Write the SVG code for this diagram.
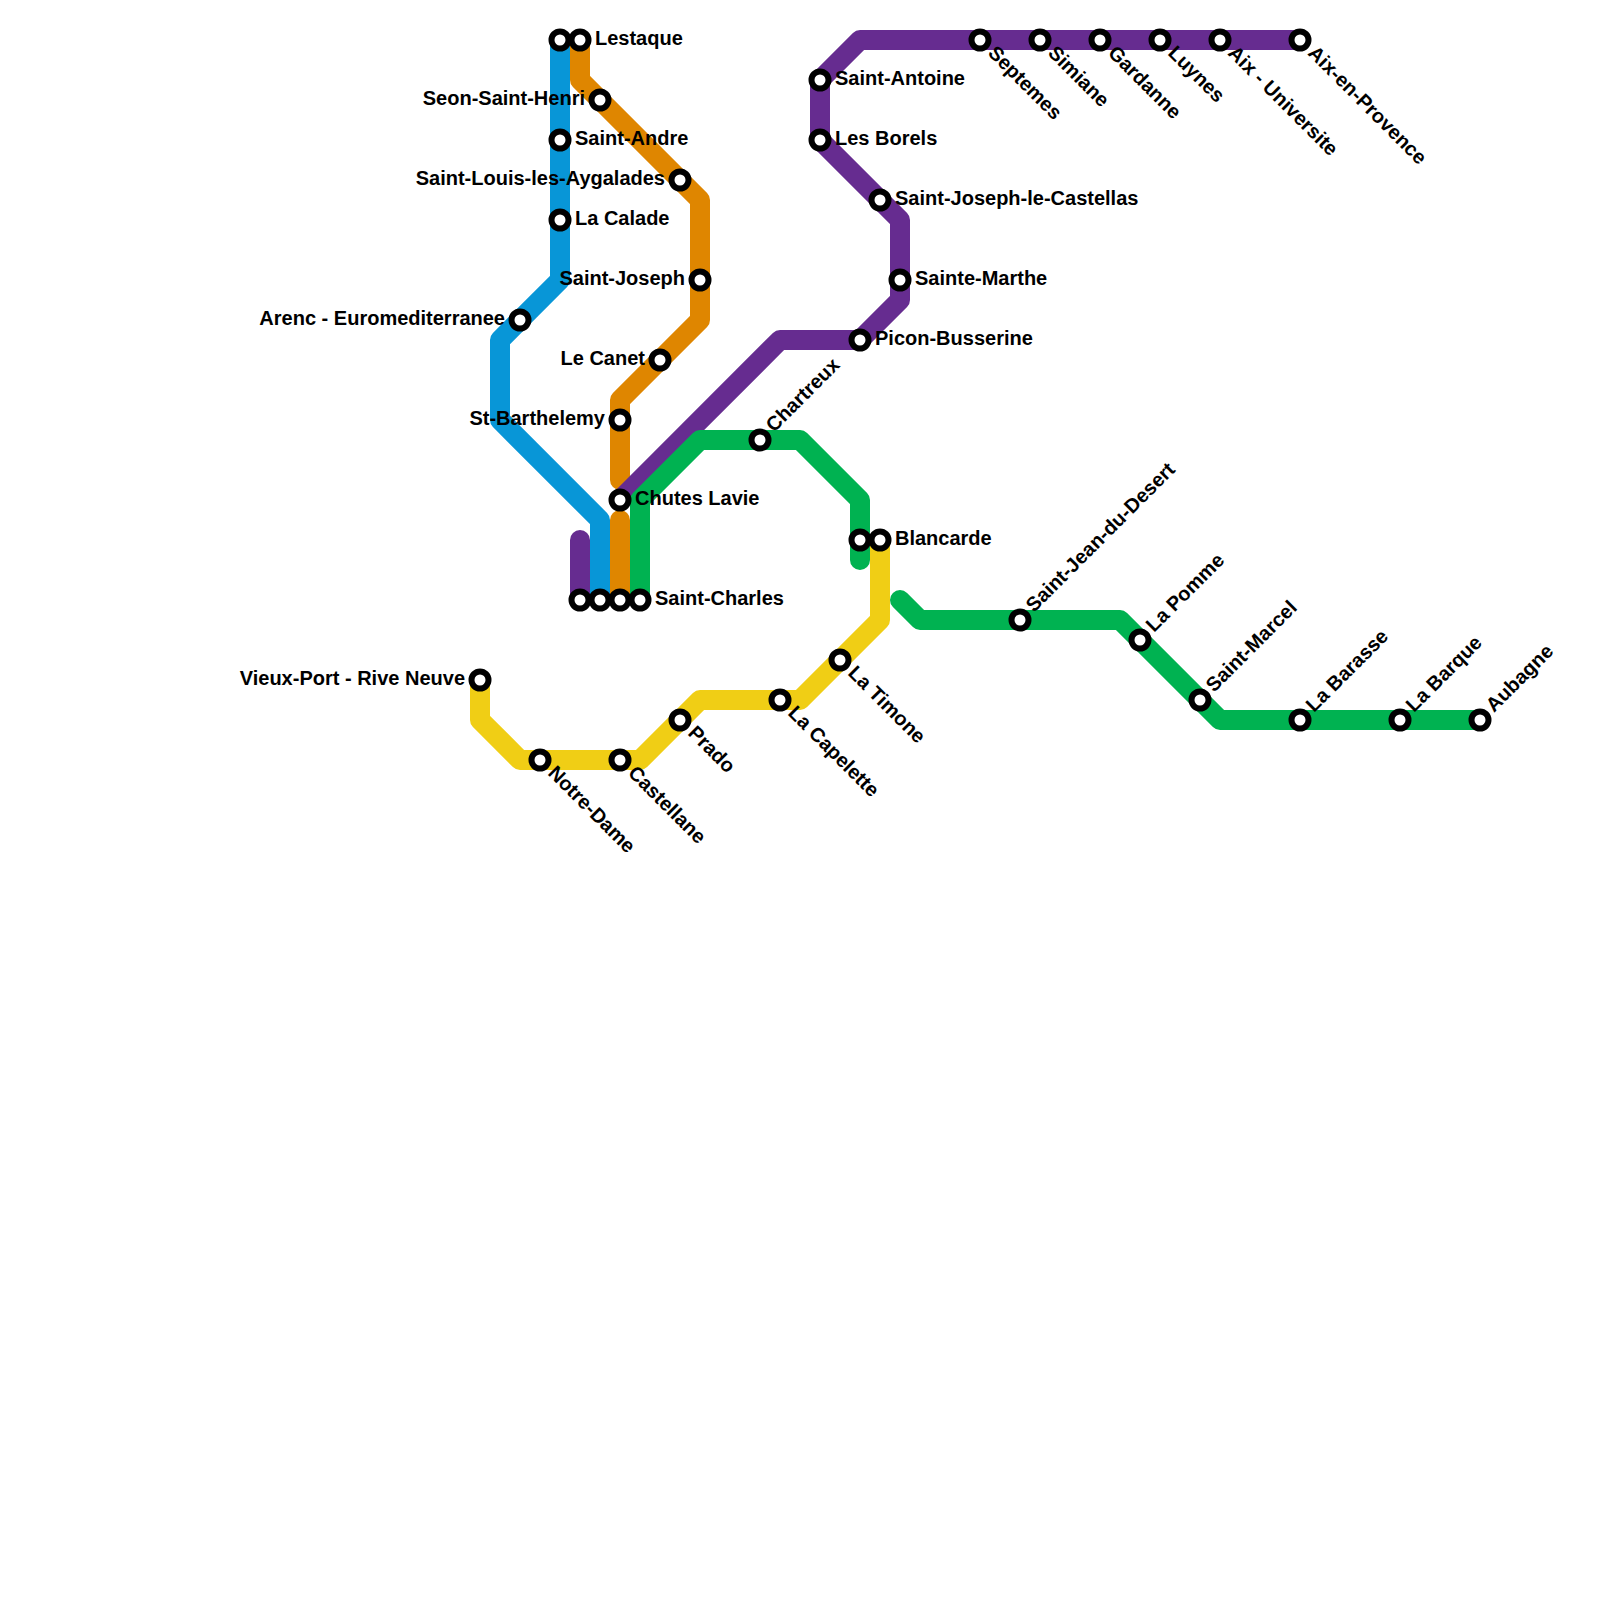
<svg xmlns="http://www.w3.org/2000/svg" width="1600" height="1600" viewBox="0 0 1600 1600">
<style>
.l{fill:none;stroke-width:20;stroke-linecap:round;stroke-linejoin:round}
.s{fill:#fff;stroke:#000;stroke-width:6}
text{font-family:"Liberation Sans",Arial,sans-serif;font-weight:700;font-size:20px;fill:#000}
.e{text-anchor:end}
</style>
<rect width="1600" height="1600" fill="#fff"/>
<g id="connectors">
<path class="l" stroke="#0896d7" d="M560 40V280L500 340V420L600 520V600"/>
<path class="l" stroke="#df8600" d="M580 40V80L700 200V320L620 400V480"/>
<path class="l" stroke="#df8600" d="M620 520V600"/>
<path class="l" stroke="#662c90" d="M620 500L780 340H860L900 300V220L820 140V80L860 40H1300"/>
<path class="l" stroke="#662c90" d="M580 540V600"/>
<path class="l" stroke="#00b251" d="M640 600V500L700 440H800L860 500V560"/>
<path class="l" stroke="#00b251" d="M900 600L920 620H1120L1220 720H1480"/>
<path class="l" stroke="#f0ce15" d="M480 680V720L520 760H640L700 700H800L880 620V540"/>
</g>
<g id="st-blue-top"><circle class="s" cx="560" cy="40" r="8.5"/></g>
<g id="lestaque"><circle class="s" cx="580" cy="40" r="8.5"/><text x="595" y="45">Lestaque</text></g>
<g id="seon"><circle class="s" cx="600" cy="100" r="8.5"/><text class="e" x="585" y="105">Seon-Saint-Henri</text></g>
<g id="saint-andre"><circle class="s" cx="560" cy="140" r="8.5"/><text x="575" y="145">Saint-Andre</text></g>
<g id="saint-louis"><circle class="s" cx="680" cy="180" r="8.5"/><text class="e" x="665" y="185">Saint-Louis-les-Aygalades</text></g>
<g id="la-calade"><circle class="s" cx="560" cy="220" r="8.5"/><text x="575" y="225">La Calade</text></g>
<g id="saint-joseph"><circle class="s" cx="700" cy="280" r="8.5"/><text class="e" x="685" y="285">Saint-Joseph</text></g>
<g id="arenc"><circle class="s" cx="520" cy="320" r="8.5"/><text class="e" x="505" y="325">Arenc - Euromediterranee</text></g>
<g id="le-canet"><circle class="s" cx="660" cy="360" r="8.5"/><text class="e" x="645" y="365">Le Canet</text></g>
<g id="st-barthelemy"><circle class="s" cx="620" cy="420" r="8.5"/><text class="e" x="605" y="425">St-Barthelemy</text></g>
<g id="chutes-lavie"><circle class="s" cx="620" cy="500" r="8.5"/><text x="635" y="505">Chutes Lavie</text></g>
<g id="sc-1"><circle class="s" cx="580" cy="600" r="8.5"/></g>
<g id="sc-2"><circle class="s" cx="600" cy="600" r="8.5"/></g>
<g id="sc-3"><circle class="s" cx="620" cy="600" r="8.5"/></g>
<g id="saint-charles"><circle class="s" cx="640" cy="600" r="8.5"/><text x="655" y="605">Saint-Charles</text></g>
<g id="saint-antoine"><circle class="s" cx="820" cy="80" r="8.5"/><text x="835" y="85">Saint-Antoine</text></g>
<g id="les-borels"><circle class="s" cx="820" cy="140" r="8.5"/><text x="835" y="145">Les Borels</text></g>
<g id="sjc"><circle class="s" cx="880" cy="200" r="8.5"/><text x="895" y="205">Saint-Joseph-le-Castellas</text></g>
<g id="sainte-marthe"><circle class="s" cx="900" cy="280" r="8.5"/><text x="915" y="285">Sainte-Marthe</text></g>
<g id="picon"><circle class="s" cx="860" cy="340" r="8.5"/><text x="875" y="345">Picon-Busserine</text></g>
<g id="chartreux"><circle class="s" cx="760" cy="440" r="8.5"/><text transform="translate(774 433) rotate(-45)">Chartreux</text></g>
<g id="blancarde-g"><circle class="s" cx="860" cy="540" r="8.5"/></g>
<g id="blancarde"><circle class="s" cx="880" cy="540" r="8.5"/><text x="895" y="545">Blancarde</text></g>
<g id="septemes"><circle class="s" cx="980" cy="40" r="8.5"/><text transform="translate(987 54) rotate(45)" >Septemes</text></g>
<g id="simiane"><circle class="s" cx="1040" cy="40" r="8.5"/><text transform="translate(1047 54) rotate(45)">Simiane</text></g>
<g id="gardanne"><circle class="s" cx="1100" cy="40" r="8.5"/><text transform="translate(1107 54) rotate(45)">Gardanne</text></g>
<g id="luynes"><circle class="s" cx="1160" cy="40" r="8.5"/><text transform="translate(1167 54) rotate(45)">Luynes</text></g>
<g id="aix-univ"><circle class="s" cx="1220" cy="40" r="8.5"/><text transform="translate(1227 54) rotate(45)">Aix - Universite</text></g>
<g id="aix-en-provence"><circle class="s" cx="1300" cy="40" r="8.5"/><text transform="translate(1307 54) rotate(45)">Aix-en-Provence</text></g>
<g id="saint-jean"><circle class="s" cx="1020" cy="620" r="8.5"/><text transform="translate(1034 613) rotate(-45)">Saint-Jean-du-Desert</text></g>
<g id="la-pomme"><circle class="s" cx="1140" cy="640" r="8.5"/><text transform="translate(1154 633) rotate(-45)">La Pomme</text></g>
<g id="saint-marcel"><circle class="s" cx="1200" cy="700" r="8.5"/><text transform="translate(1214 693) rotate(-45)">Saint-Marcel</text></g>
<g id="la-barasse"><circle class="s" cx="1300" cy="720" r="8.5"/><text transform="translate(1314 713) rotate(-45)">La Barasse</text></g>
<g id="la-barque"><circle class="s" cx="1400" cy="720" r="8.5"/><text transform="translate(1414 713) rotate(-45)">La Barque</text></g>
<g id="aubagne"><circle class="s" cx="1480" cy="720" r="8.5"/><text transform="translate(1494 713) rotate(-45)">Aubagne</text></g>
<g id="vieux-port"><circle class="s" cx="480" cy="680" r="8.5"/><text class="e" x="465" y="685">Vieux-Port - Rive Neuve</text></g>
<g id="notre-dame"><circle class="s" cx="540" cy="760" r="8.5"/><text transform="translate(547 774) rotate(45)">Notre-Dame</text></g>
<g id="castellane"><circle class="s" cx="620" cy="760" r="8.5"/><text transform="translate(627 774) rotate(45)">Castellane</text></g>
<g id="prado"><circle class="s" cx="680" cy="720" r="8.5"/><text transform="translate(687 734) rotate(45)">Prado</text></g>
<g id="la-capelette"><circle class="s" cx="780" cy="700" r="8.5"/><text transform="translate(787 714) rotate(45)">La Capelette</text></g>
<g id="la-timone"><circle class="s" cx="840" cy="660" r="8.5"/><text transform="translate(847 674) rotate(45)">La Timone</text></g>
</svg>
